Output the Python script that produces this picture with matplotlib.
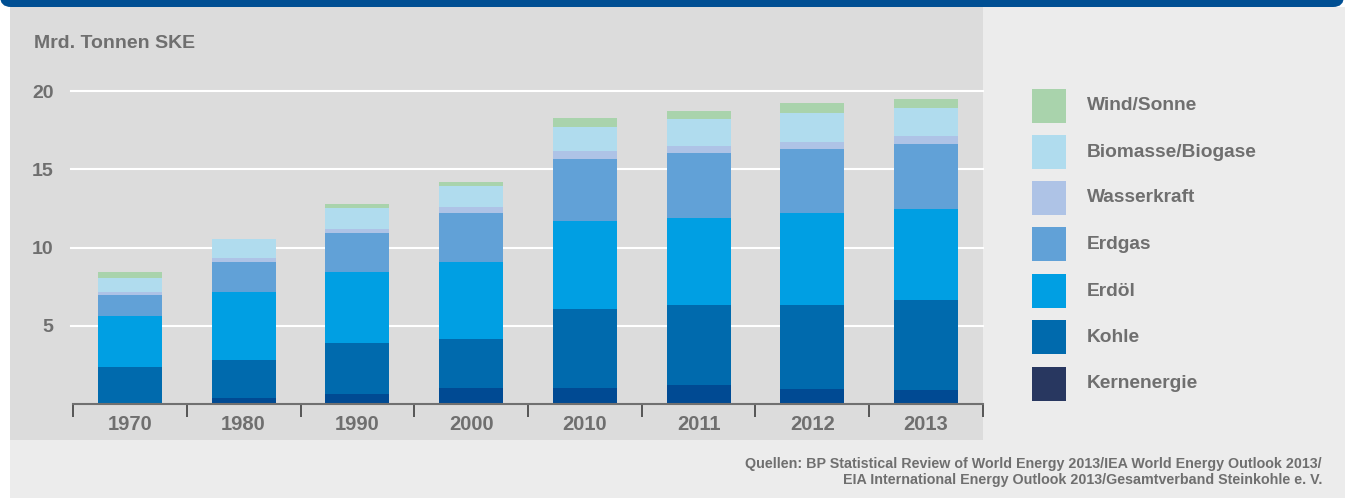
import numpy as np
import matplotlib.pyplot as plt
from matplotlib.patches import Rectangle, FancyBboxPatch

plt.rcParams['font.family'] = ['Liberation Sans', 'DejaVu Sans']
plt.rcParams['font.weight'] = 'bold'

# Weltenergieverbrauch, Mrd. Tonnen SKE
years = ['1970', '1980', '1990', '2000', '2010', '2011', '2012', '2013']
kernenergie = [0.05, 0.40, 0.64, 1.02, 1.02, 1.21, 0.96, 0.89]
kohle = [2.33, 2.43, 3.26, 3.13, 5.05, 5.12, 5.37, 5.76]
erdoel = [3.24, 4.33, 4.53, 4.92, 5.62, 5.55, 5.87, 5.81]
erdgas = [1.34, 1.91, 2.50, 3.13, 3.96, 4.16, 4.09, 4.15]
wasserkraft = [0.20, 0.26, 0.25, 0.39, 0.52, 0.45, 0.45, 0.51]
biomasse = [0.89, 1.21, 1.34, 1.34, 1.53, 1.72, 1.85, 1.79]
wind_sonne = [0.38, 0.00, 0.26, 0.26, 0.57, 0.51, 0.64, 0.58]

series = [kernenergie, kohle, erdoel, erdgas, wasserkraft, biomasse, wind_sonne]
names = ['Kernenergie', 'Kohle', 'Erdöl', 'Erdgas', 'Wasserkraft',
         'Biomasse/Biogase', 'Wind/Sonne']
bar_colors = ['#004a93', '#006aad', '#009fe3', '#61a1d7', '#aec3e6',
              '#b0dcee', '#a9d3ac']
legend_colors = ['#283760', '#006aad', '#009fe3', '#61a1d7', '#aec3e6',
                 '#b0dcee', '#a9d3ac']

TXT = '#6f6f6f'
W, H = 1349, 499
fig = plt.figure(figsize=(W / 100, H / 100), dpi=100)


def px(x, y, w, h):
    # pixel box (from top-left) -> figure fraction
    return x / W, 1 - (y + h) / H, w / W, h / H


# background panels
for (x, y, w, h), c in [((10, 7, 1335, 491), '#ececec'),
                        ((10, 7, 973, 433), '#dcdcdc')]:
    l, b, ww, hh = px(x, y, w, h)
    fig.add_artist(Rectangle((l, b), ww, hh, transform=fig.transFigure,
                             facecolor=c, edgecolor='none', zorder=-5))

# blue header strip with rounded lower corners
l, b, ww, hh = px(0, -14, 1344, 21)
fig.add_artist(FancyBboxPatch((l, b), ww, hh, boxstyle='round,pad=0,rounding_size=0.008',
                              mutation_aspect=W / H, transform=fig.transFigure,
                              facecolor='#004f93', edgecolor='none', zorder=-4))

# plot area
y0_px, unit = 404, 15.65
ytop = 20.5
ax = fig.add_axes(px(73, y0_px - ytop * unit, 910, ytop * unit))
ax.set_facecolor('none')

x = np.arange(len(years))
bottom = np.zeros(len(years))
for vals, c in zip(series, bar_colors):
    ax.bar(x, vals, width=0.563, bottom=bottom, color=c, linewidth=0, zorder=3)
    bottom += np.array(vals)

ax.set_xlim(-0.5, len(years) - 0.5)
ax.set_ylim(0, ytop)
ax.set_yticks([5, 10, 15, 20])
ax.set_yticklabels(['5', '10', '15', '20'])
for g in [5, 10, 15, 20]:
    ax.axhline(g, color='white', lw=1.5, zorder=1, xmin=-0.002, clip_on=False)

ax.set_xticks(x)
ax.set_xticklabels(years)
ax.set_xticks(np.arange(-0.5, len(years)), minor=True)
ax.tick_params(axis='x', which='major', length=0, pad=8, labelsize=14.5, labelcolor=TXT)
ax.tick_params(axis='x', which='minor', length=9, width=1.3, color='#4a4a4a', direction='out')
ax.tick_params(axis='y', length=0, pad=14, labelsize=14, labelcolor=TXT)

for s in ['top', 'right', 'left']:
    ax.spines[s].set_visible(False)
ax.spines['bottom'].set_color('#707070')
ax.spines['bottom'].set_linewidth(1.5)
ax.spines['bottom'].set_zorder(4)

fig.text(34 / W, 1 - 48 / H, 'Mrd. Tonnen SKE', fontsize=14, color=TXT,
         fontweight='bold', va='baseline', ha='left')

# legend, top entry first
rows = [106, 152, 198, 244, 291, 337, 384]
for yc, name, c in zip(rows, names[::-1], legend_colors[::-1]):
    l, b, ww, hh = px(1032, yc - 17, 34, 34)
    fig.add_artist(Rectangle((l, b), ww, hh, transform=fig.transFigure,
                             facecolor=c, edgecolor='none'))
    fig.text(1087 / W, 1 - yc / H, name, fontsize=13.8, color=TXT,
             fontweight='bold', va='center', ha='left')

fig.text(1322 / W, 1 - 472 / H,
         'Quellen: BP Statistical Review of World Energy 2013/IEA World Energy Outlook 2013/\n'
         'EIA International Energy Outlook 2013/Gesamtverband Steinkohle e. V.',
         fontsize=10.3, color=TXT, fontweight='bold', ha='right', va='center',
         multialignment='right', linespacing=1.25)

fig.savefig('out.png', dpi=100)
